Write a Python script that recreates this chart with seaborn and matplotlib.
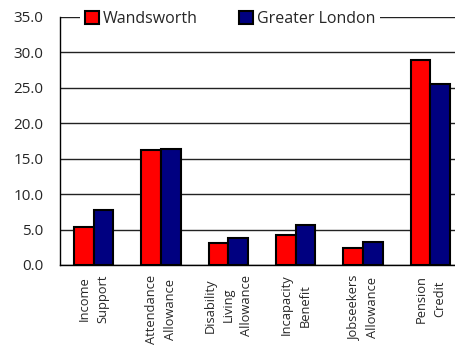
import seaborn as sns
import pandas as pd
from matplotlib import pyplot as plt

categories = ['Income\nSupport', 'Attendance\nAllowance', 'Disability\nLiving\nAllowance',
              'Incapacity\nBenefit', 'Jobseekers\nAllowance', 'Pension\nCredit']
wandsworth = [5.4, 16.3, 3.1, 4.3, 2.4, 29.0]
greater_london = [7.75, 16.4, 3.75, 5.65, 3.3, 25.5]

df = pd.DataFrame({
    'benefit': categories * 2,
    'value': wandsworth + greater_london,
    'area': ['Wandsworth'] * 6 + ['Greater London'] * 6,
})

sns.set_style('white')
plt.rcParams['font.family'] = ['Open Sans', 'DejaVu Sans']

fig = plt.figure(figsize=(4.56, 3.46), dpi=100)
ax = fig.add_axes([60 / 456, 81 / 346, 404 / 456, 248 / 346])

sns.barplot(x='benefit', y='value', hue='area', data=df, ax=ax,
            palette=['#ff0000', '#000080'], width=0.58, gap=0,
            edgecolor='black', linewidth=1.5, saturation=1, zorder=3)

ax.set_ylim(0, 35)
ax.set_xlim(-0.5, 5.5)
ax.set_yticks([0, 5, 10, 15, 20, 25, 30, 35])
ax.set_yticklabels(['%.1f' % v for v in [0, 5, 10, 15, 20, 25, 30, 35]], fontsize=11)
ax.yaxis.grid(True, color='#222222', linewidth=1, zorder=0)
ax.set_axisbelow(True)

# category labels on minor ticks, separators on major ticks
ax.set_xticks([0.5, 1.5, 2.5, 3.5, 4.5])
ax.set_xticklabels([])
ax.set_xticks(range(6), minor=True)
ax.set_xticklabels(categories, minor=True, rotation=90, fontsize=9.3,
                   multialignment='center', linespacing=1.55)
ax.tick_params(axis='x', which='major', direction='out', length=5, width=1, color='black')
ax.tick_params(axis='x', which='minor', length=0, pad=7)
ax.tick_params(axis='y', direction='inout', length=8, width=1, color='black', pad=8)
ax.set_xlabel('')
ax.set_ylabel('')

for s in ['top', 'right']:
    ax.spines[s].set_visible(False)
for s in ['left', 'bottom']:
    ax.spines[s].set_color('black')
    ax.spines[s].set_linewidth(1)

leg = ax.legend(loc='upper left', bbox_to_anchor=(0.05, 1.045), ncol=2, fontsize=11.5,
                frameon=True, facecolor='white', edgecolor='white', framealpha=1,
                handlelength=0.9, handleheight=0.9, handletextpad=0.2,
                columnspacing=2.6, borderpad=0.3, borderaxespad=0)
leg.get_frame().set_linewidth(0)

fig.savefig('out.png', dpi=100)
